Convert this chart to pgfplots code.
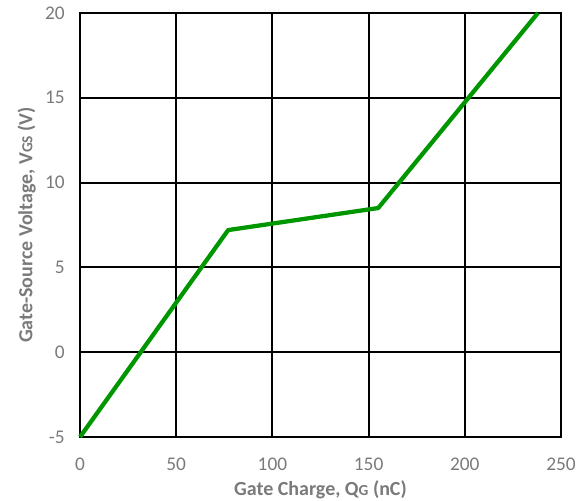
\documentclass[border=0pt]{standalone}
\usepackage{pgfplots}
\pgfplotsset{compat=1.18}
\usepackage{fontspec}
\setmainfont{Carlito}
\usetikzlibrary{calc}
\definecolor{txt}{RGB}{122,122,122}
\definecolor{ln}{RGB}{0,150,0}
\begin{document}
\begin{tikzpicture}
\begin{axis}[
  scale only axis,
  width=360.75pt, height=318pt,
  xmin=0, xmax=250, ymin=-5, ymax=20,
  xtick={0,50,...,250}, ytick={-5,0,...,20},
  grid=major,
  major grid style={black, line width=1.5pt},
  axis line style={black, line width=1.5pt},
  tick style={draw=none},
  /pgf/number format/assume math mode=true,
  ticklabel style={font=\fontsize{14.5}{16}\selectfont, text=txt},
  xticklabel style={yshift=-12pt},
  yticklabel style={xshift=-8pt},
  xlabel={Gate Charge, Q{\fontsize{11.5}{12}\selectfont G} (nC)},
  ylabel={Gate-Source Voltage, V{\fontsize{11.5}{12}\selectfont GS} (V)},
  label style={font=\bfseries\fontsize{15}{17}\selectfont, text=txt},
  xlabel style={yshift=-1pt},
  ylabel style={yshift=0pt},
  clip=false,
]
\addplot[ln, line width=3.2pt, line join=round] coordinates {
  (0,-5) (77,7.2) (155,8.5) (238,20)
};
\end{axis}
\pgfresetboundingbox
\path ($(current axis.south west)+(-60pt,-48pt)$) rectangle ($(current axis.north east)+(20.25pt,9.75pt)$);
\end{tikzpicture}
\end{document}
